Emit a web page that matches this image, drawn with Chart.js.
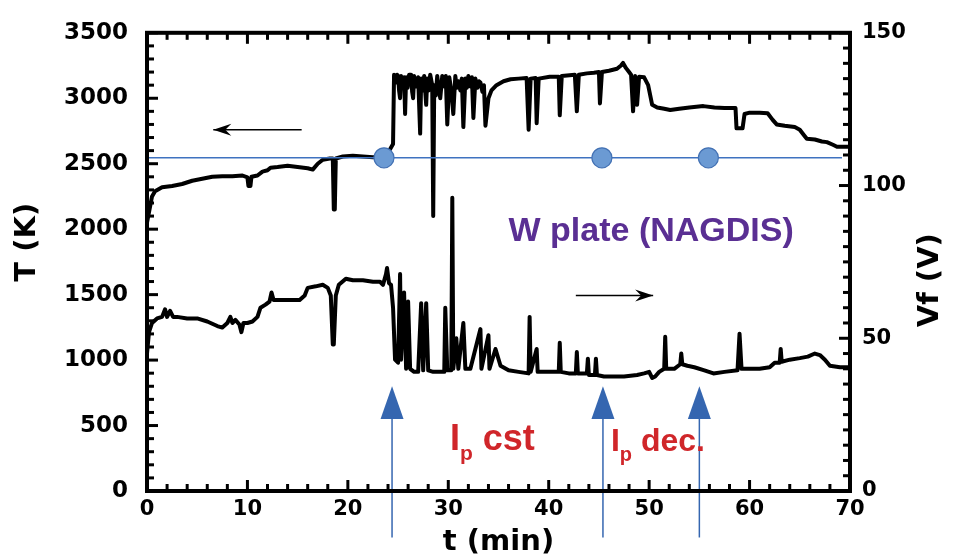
<!DOCTYPE html>
<html><head><meta charset="utf-8">
<script src="https://cdn.jsdelivr.net/npm/chart.js@4/dist/chart.umd.min.js"></script>
<style>html,body{margin:0;padding:0;background:#fff}#wrap{width:953px;height:560px}</style>
</head><body><div id="wrap"><canvas id="c" width="953" height="560"></canvas></div>
<script>
// ---- data ----
const tempTime = [0,0.2,0.5,0.8,1.5,2.5,3.5,4.5,5.5,6.5,7.5,8.5,9.5,10.0,10.1,10.3,10.4,11.0,11.5,12.0,12.3,13.0,14.0,15.0,16.0,16.5,17.0,17.5,18.2,18.5,18.6,18.7,18.8,19.5,20.5,21.5,22.5,23.3,23.8,24.2,24.5,
  24.6,24.8,24.9,25.0,25.1,25.2,25.3,25.45,25.6,25.7,25.8,25.95,26.1,26.3,26.4,26.5,26.6,26.8,27.0,27.2,27.3,27.45,27.6,27.8,27.9,28.05,28.2,28.4,28.5,28.6,28.75,28.9,29.05,29.2,29.4,29.6,29.75,29.9,30.1,30.3,30.5,30.7,30.85,31.0,31.2,31.35,31.5,31.7,31.85,32.0,32.2,32.35,32.5,32.7,32.9,33.05,33.2,33.4,33.55,33.7,34.0,34.3,
  34.8,35.5,36.2,37.0,37.8,38.0,38.2,38.7,38.8,39.0,40.1,41.0,41.1,41.3,42.6,42.8,43.0,43.8,44.5,45.0,45.1,45.3,46.0,46.8,47.2,47.4,47.7,48.0,48.2,48.4,48.6,48.8,49.0,49.5,49.9,50.3,50.8,51.5,52.1,53.0,54.0,55.4,56.5,57.5,58.6,58.7,59.3,59.5,60.0,61.0,61.8,62.3,62.7,63.5,64.5,65.0,65.4,65.7,66.5,67.2,67.7,68.3,68.7,70.0];
const tempK    = [2050,2130,2250,2290,2320,2330,2345,2370,2385,2400,2405,2405,2410,2395,2330,2330,2400,2410,2440,2450,2470,2475,2485,2475,2465,2455,2500,2530,2540,2540,2150,2150,2540,2555,2560,2555,2550,2555,2570,2610,2650,
  3180,3120,3180,3170,3060,3000,3170,3100,3160,2880,3160,3080,3180,3180,3050,3000,3170,3090,3160,2730,3150,3060,3170,2950,3150,3060,3180,3100,2100,3100,3020,3170,3080,3000,3170,3090,3170,2800,3160,3060,2880,3170,3080,3130,3060,3150,2780,3150,3080,3170,3090,3160,2850,3150,3080,3130,3120,3050,3100,2790,3000,3060,
  3100,3130,3145,3150,3155,2760,3150,3155,2810,3150,3165,3165,2870,3170,3180,2900,3180,3190,3195,3200,2960,3200,3210,3225,3250,3270,3230,3200,3180,2900,3170,2950,3165,3160,3100,2950,2930,2920,2910,2920,2930,2940,2930,2925,2925,2770,2770,2880,2890,2890,2885,2835,2800,2790,2780,2760,2720,2690,2685,2670,2665,2645,2630,2630];

const vfTime = [0,0.2,0.5,1.0,1.5,1.8,2.0,2.3,2.6,3.0,4.0,5.0,6.0,7.0,7.5,8.0,8.3,8.5,8.8,9.2,9.4,9.6,10.0,10.5,11.0,11.3,11.8,12.2,12.4,12.6,13.5,14.5,15.2,15.7,16.0,16.8,17.5,18.0,18.3,18.5,18.6,18.8,19.1,19.8,20.5,21.5,22.5,23.2,23.5,23.8,23.9,24.1,24.3,24.5,24.7,25.0,25.2,25.3,25.6,25.8,26.0,26.2,26.6,27.0,27.3,27.5,27.8,28.0,28.5,29.0,29.6,29.7,29.9,30.3,30.4,30.5,30.8,31.0,31.5,31.7,32.2,33.2,33.3,34.0,34.1,34.7,35.2,36.0,37.0,38.0,38.1,38.2,38.8,38.9,40.0,41.0,41.1,41.2,42.0,42.7,42.8,42.9,43.8,43.9,44.0,44.6,44.7,44.8,45.5,46.5,47.5,48.8,49.5,50.0,50.3,50.6,51.0,51.5,51.6,51.7,52.5,53.1,53.2,53.3,53.8,54.5,55.5,56.4,57.5,58.8,59.0,59.2,60.0,61.0,62.0,62.5,63.0,63.1,63.2,64.0,65.0,65.8,66.5,67.0,67.5,68.0,69.0,70.0];
const vfVolt = [45,52,55,56.5,57,59.5,57,59,57,57,56.5,56.5,55.5,54,53.5,55,57,55,56,54.5,52,55,55,55.5,57,60,61,62,65,62.5,62.5,62.5,62.5,64,66.5,67,67.5,66.5,64,48,48,64,67.5,69.5,69,69,68.5,68.5,67.5,71,73,68,67.5,60,43,42,71,43,65,40,62,40,39,39,61.5,39.5,61.5,39.5,39,39,39,60,39.5,39.5,96,40,50,40,55,40,40,53,40,51,40,46.5,41,39.5,39,38.5,57,39,46.5,39,39,39,48.5,39,38.5,38.5,45.5,38.5,38.5,43.3,38,38,43.3,38,37.5,37.5,37.5,38,38.5,39,37,37.5,39,40,50.5,40,40,41.5,45,41.5,41,40.5,39.5,38.5,39,39.5,51.5,40,40,40,40.5,42,42,46.5,42.3,43,43.5,44,45,44.5,43,41,40.5,40.5];

const refLevelK   = 2545;                 // blue horizontal reference (K)
const refLineEnd  = 69.2;                 // t where the blue line stops
const markerTimes = [23.6, 45.3, 55.9];   // blue dots on the reference line
const arrowTimes  = [24.4, 45.4, 55.0];   // blue upward arrows
const arrowBaseK  = -355, arrowHeadK = 550, arrowTipK = 800;

const xTickStep = 10, xMinor = 2;
const yTickStep = 500, yMinor = 100;
const y2TickStep = 50, y2Minor = 5;

const TICKFONT = 'DejaVu Sans';

const frameAndDecor = {
  id: 'frameAndDecor',
  afterDatasetsDraw(chart) {
    const {ctx, chartArea: a, scales: {x, y, y2}} = chart;
    ctx.save();
    // blue arrows
    ctx.strokeStyle = '#3566b0'; ctx.fillStyle = '#3566b0'; ctx.lineWidth = 1.5;
    arrowTimes.forEach(t => {
      const px = x.getPixelForValue(t);
      const yb = y.getPixelForValue(arrowBaseK), yh = y.getPixelForValue(arrowHeadK), yt = y.getPixelForValue(arrowTipK);
      ctx.beginPath(); ctx.moveTo(px, yb); ctx.lineTo(px, yh); ctx.stroke();
      ctx.beginPath(); ctx.moveTo(px, yt); ctx.lineTo(px - 11.5, yh); ctx.lineTo(px + 11.5, yh); ctx.closePath(); ctx.fill();
    });
    // frame
    ctx.strokeStyle = '#000'; ctx.lineWidth = 4;
    ctx.strokeRect(a.left, a.top, a.right - a.left, a.bottom - a.top);
    ctx.lineWidth = 3;
    const seg = (x0, y0, x1, y1) => { ctx.beginPath(); ctx.moveTo(x0, y0); ctx.lineTo(x1, y1); ctx.stroke(); };
    for (let t = x.min; t <= x.max + 1e-9; t += xMinor) {
      const px = x.getPixelForValue(t), L = (t % xTickStep === 0) ? 11 : 7;
      seg(px, a.bottom, px, a.bottom - L); seg(px, a.top, px, a.top + L);
    }
    for (let v = y.min; v <= y.max + 1e-9; v += yMinor) {
      const py = y.getPixelForValue(v), L = (v % yTickStep === 0) ? 11 : 7;
      seg(a.left, py, a.left + L, py);
    }
    for (let v = y2.min; v <= y2.max + 1e-9; v += y2Minor) {
      const py = y2.getPixelForValue(v), L = (v % y2TickStep === 0) ? 11 : 7;
      seg(a.right, py, a.right - L, py);
    }
    // black direction arrows
    ctx.lineWidth = 1.5; ctx.fillStyle = '#000';
    const blackArrow = (xs, xe, py) => {
      seg(xs, py, xe, py);
      const dir = Math.sign(xe - xs);
      ctx.beginPath(); ctx.moveTo(xe, py); ctx.lineTo(xe - dir * 18, py - 6); ctx.lineTo(xe - dir * 12, py); ctx.lineTo(xe - dir * 18, py + 6); ctx.closePath(); ctx.fill();
    };
    blackArrow(x.getPixelForValue(15.4), x.getPixelForValue(6.6), y.getPixelForValue(2760));
    blackArrow(x.getPixelForValue(42.7), x.getPixelForValue(50.4), y2.getPixelForValue(64));
    // texts
    ctx.textBaseline = 'alphabetic';
    ctx.fillStyle = '#5a2f93'; ctx.font = 'bold 34px "Liberation Sans", Arial, sans-serif'; ctx.textAlign = 'center';
    ctx.fillText('W plate (NAGDIS)', x.getPixelForValue(50.2), y.getPixelForValue(1908));
    const ipLabel = (t, k, big, small, rest) => {
      let px = x.getPixelForValue(t); const py = y.getPixelForValue(k);
      ctx.textAlign = 'left'; ctx.fillStyle = '#d0262a';
      ctx.font = `bold ${big}px "Liberation Sans", Arial, sans-serif`;
      ctx.fillText('I', px, py); px += ctx.measureText('I').width;
      ctx.font = `bold ${small}px "Liberation Sans", Arial, sans-serif`;
      ctx.fillText('p', px, py + small * 0.5); px += ctx.measureText('p').width;
      ctx.font = `bold ${big}px "Liberation Sans", Arial, sans-serif`;
      ctx.fillText(rest, px, py);
    };
    ipLabel(30.17, 317, 36, 21, ' cst');
    ipLabel(46.2, 302, 32, 20, ' dec.');
    // axis titles (left and right, rotated)
    ctx.fillStyle = '#000'; ctx.textAlign = 'center'; ctx.textBaseline = 'middle';
    ctx.font = `bold 29px "${TICKFONT}"`;
    ctx.save(); ctx.translate(27, y.getPixelForValue(1900)); ctx.rotate(-Math.PI / 2); ctx.fillText('T (K)', 0, 0); ctx.restore();
    ctx.save(); ctx.translate(a.right + 80, y2.getPixelForValue(69)); ctx.rotate(-Math.PI / 2); ctx.fillText('Vf (V)', 0, 0); ctx.restore();
    ctx.restore();
  }
};

const tempData = tempTime.map((t, i) => ({x: t, y: tempK[i]}));
const vfData = vfTime.map((t, i) => ({x: t, y: vfVolt[i]}));

new Chart(document.getElementById('c'), {
  type: 'line',
  data: {
    datasets: [
      {label: 'markers', data: markerTimes.map(t => ({x: t, y: refLevelK})), yAxisID: 'y', showLine: false,
       pointRadius: 10, pointBackgroundColor: '#6b9ad3', pointBorderColor: '#4472b4', pointBorderWidth: 1.2},
      {label: 'ref', data: [{x: 0, y: refLevelK}, {x: refLineEnd, y: refLevelK}], yAxisID: 'y',
       borderColor: '#3f72c0', borderWidth: 1.4, pointRadius: 0},
      {label: 'T', data: tempData, yAxisID: 'y', borderColor: '#000', borderWidth: 4, pointRadius: 0, tension: 0, borderJoinStyle: 'round'},
      {label: 'Vf', data: vfData, yAxisID: 'y2', borderColor: '#000', borderWidth: 4, pointRadius: 0, tension: 0, borderJoinStyle: 'round'}
    ]
  },
  options: {
    responsive: false, animation: false, devicePixelRatio: 1,
    layout: {padding: {top: 27, left: 0, right: 0, bottom: 0}},
    plugins: {legend: {display: false}, tooltip: {enabled: false}},
    scales: {
      x: {type: 'linear', position: 'bottom', min: 0, max: 70,
          ticks: {stepSize: xTickStep, color: '#000', padding: 6, maxRotation: 0, font: {family: TICKFONT, weight: 'bold', size: 21}, callback: v => String(v)},
          grid: {display: false, drawTicks: false}, border: {display: false},
          title: {display: true, text: 't (min)', color: '#000', padding: {top: 0, bottom: 0}, font: {family: TICKFONT, weight: 'bold', size: 29}},
          afterFit: s => { s.height = 69; }},
      y: {type: 'linear', position: 'left', min: 0, max: 3500,
          ticks: {stepSize: yTickStep, color: '#000', padding: 19, font: {family: TICKFONT, weight: 'bold', size: 23}, callback: v => String(v)},
          grid: {display: false, drawTicks: false}, border: {display: false},
          afterFit: s => { s.width = 147; }},
      y2: {type: 'linear', position: 'right', min: 0, max: 150,
          ticks: {stepSize: y2TickStep, color: '#000', padding: 12, font: {family: TICKFONT, weight: 'bold', size: 21}, callback: v => String(v)},
          grid: {display: false, drawTicks: false}, border: {display: false},
          afterFit: s => { s.width = 103; }}
    }
  },
  plugins: [frameAndDecor]
});
</script>
</body></html>
